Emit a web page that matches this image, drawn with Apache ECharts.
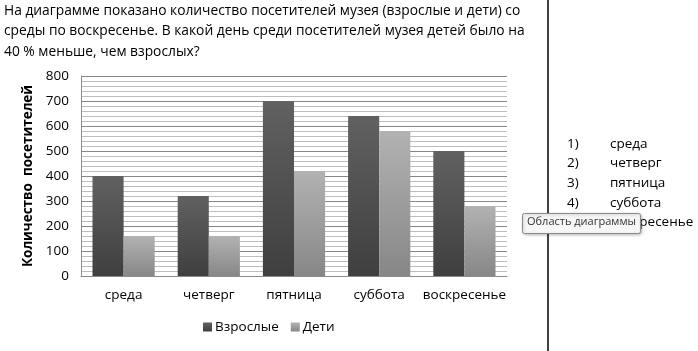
<!DOCTYPE html>
<html>
<head>
<meta charset="utf-8">
<script src="https://cdn.jsdelivr.net/npm/echarts@6/dist/echarts.min.js"></script>
<style>
html, body { margin: 0; padding: 0; background: #fff; }
#chart { width: 698px; height: 351px; }
</style>
</head>
<body>
<div id="chart"></div>
<script>
var days = ['среда', 'четверг', 'пятница', 'суббота', 'воскресенье'];
var adults = [400, 320, 700, 640, 500];
var children = [160, 160, 420, 580, 280];
var seriesNames = ['Взрослые', 'Дети'];
var questionLines = [
    'На диаграмме показано количество посетителей музея (взрослые и дети) со',
    'среды по воскресенье. В какой день среди посетителей музея детей было на',
    '40 % меньше, чем взрослых?'
];
var answerNums = ['1)', '2)', '3)', '4)', '5)'];
var answerDays = ['среда', 'четверг', 'пятница', 'суббота', 'воскресенье'];

var font = 'Open Sans';

function grad(top, bottom) {
    return new echarts.graphic.LinearGradient(0, 0, 0, 1, [
        { offset: 0, color: top },
        { offset: 1, color: bottom }
    ]);
}

var myChart = echarts.init(document.getElementById('chart'), null, { renderer: 'canvas' });

var graphics = [];
// текст вопроса
questionLines.forEach(function (line, i) {
    graphics.push({
        type: 'text', left: 4, top: 4 + i * 20.5,
        style: { text: line, font: '13.8px "' + font + '"', fill: '#000' }
    });
});
// варианты ответа
answerNums.forEach(function (n, i) {
    graphics.push({
        type: 'text', left: 567, top: 137 + i * 19.6,
        style: { text: n, font: '13.5px "' + font + '"', fill: '#000' }
    });
    graphics.push({
        type: 'text', left: 610, top: 137 + i * 19.6,
        style: { text: answerDays[i], font: '13.5px "' + font + '"', fill: '#000' }
    });
});
// вертикальная линия
graphics.push({
    type: 'line', shape: { x1: 548, y1: 0, x2: 548, y2: 351 },
    style: { stroke: '#000', lineWidth: 1.5 }
});
// всплывающая подсказка
graphics.push({
    type: 'rect', shape: { x: 522.5, y: 213.5, width: 118, height: 20, r: 2 },
    style: { fill: '#f7f7f7', stroke: '#8a8a8a', lineWidth: 1, shadowBlur: 3, shadowColor: 'rgba(0,0,0,0.25)', shadowOffsetX: 1, shadowOffsetY: 1 },
    z: 100
});
graphics.push({
    type: 'text', left: 527, top: 216.5,
    style: { text: 'Область диаграммы', font: '11px "' + font + '"', fill: '#333' },
    z: 101
});

var option = {
    animation: false,
    textStyle: { fontFamily: font },
    grid: { left: 81, right: 191, top: 76, bottom: 75, containLabel: false },
    legend: {
        data: seriesNames,
        left: 198, top: 315,
        icon: 'rect', itemWidth: 9, itemHeight: 9, itemGap: 12, itemStyle: { borderWidth: 0 },
        textStyle: { fontSize: 13.5, color: '#000', fontFamily: font, padding: [0, 0, 0, -2] }
    },
    xAxis: {
        type: 'category',
        data: days,
        axisLine: { show: true, lineStyle: { color: '#8c8c8c', width: 1 } },
        axisTick: { show: false },
        axisLabel: { color: '#000', fontSize: 13.5, margin: 12, fontFamily: font, interval: 0 },
        splitLine: { show: false }
    },
    yAxis: {
        type: 'value',
        min: 0, max: 800, interval: 100,
        name: 'Количество  посетителей',
        nameLocation: 'middle',
        nameGap: 37,
        nameTextStyle: { fontWeight: 'bold', fontSize: 13.5, color: '#000', fontFamily: font },
        axisLine: { show: true, lineStyle: { color: '#8c8c8c', width: 1 } },
        axisTick: { show: false },
        axisLabel: { color: '#000', fontSize: 13.5, margin: 12, fontFamily: font },
        splitLine: { show: true, lineStyle: { color: '#868686', width: 1 } },
        minorTick: { show: false, splitNumber: 5 },
        minorSplitLine: { show: true, lineStyle: { color: '#bdbdbd', width: 1 } }
    },
    series: [
        {
            name: seriesNames[0], type: 'bar', data: adults,
            barGap: '0%', barCategoryGap: '27%',
            itemStyle: { color: grad('#616161', '#3f3f3f') }
        },
        {
            name: seriesNames[1], type: 'bar', data: children,
            barGap: '0%', barCategoryGap: '27%',
            itemStyle: { color: grad('#b2b2b2', '#878787') }
        }
    ],
    graphic: graphics
};
myChart.setOption(option);
</script>
</body>
</html>
